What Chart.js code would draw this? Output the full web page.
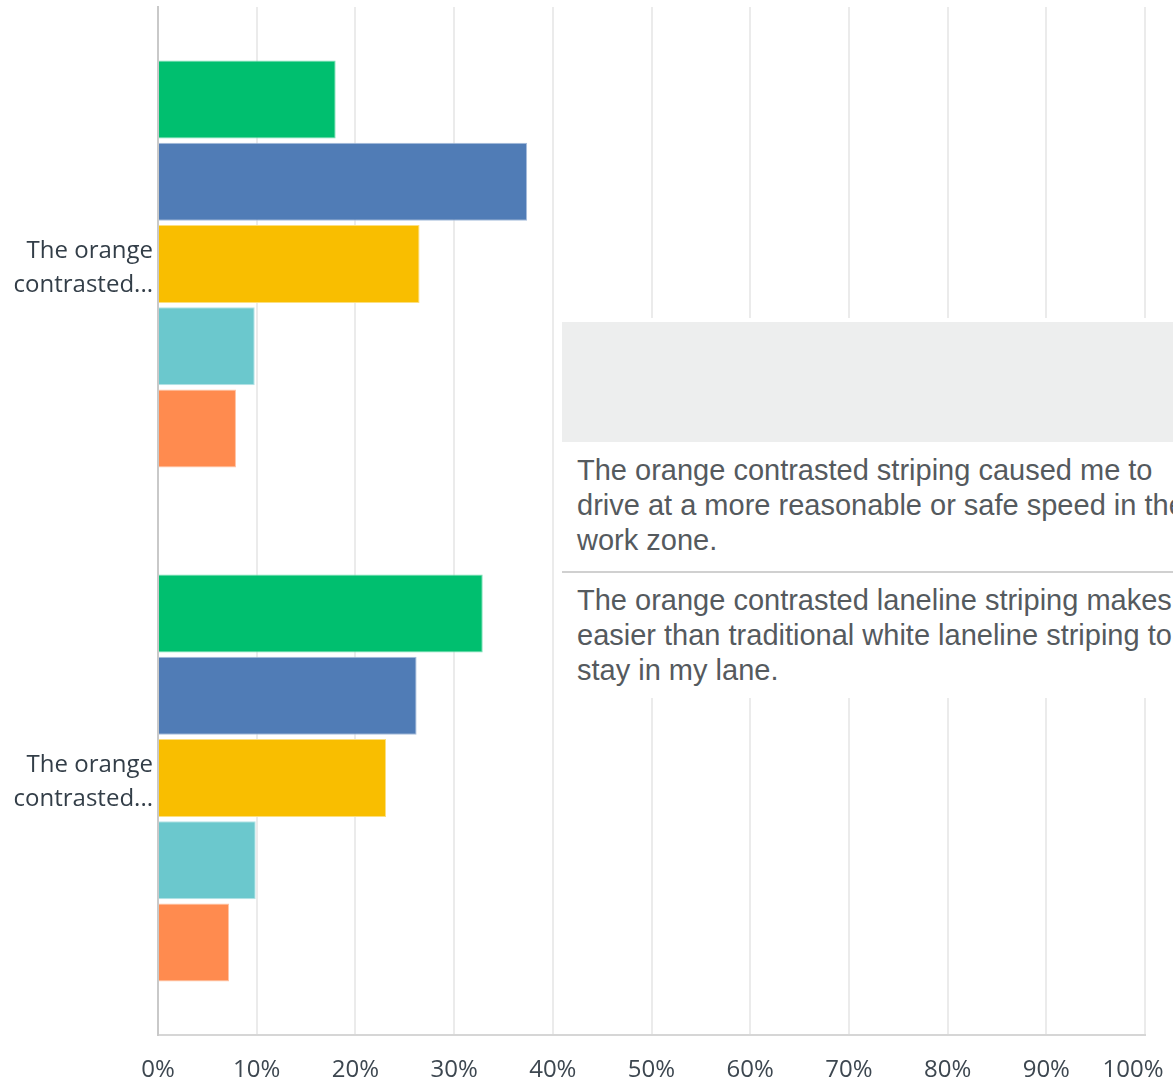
<!DOCTYPE html>
<html>
<head>
<meta charset="utf-8">
<script src="https://cdn.jsdelivr.net/npm/chart.js@4"></script>
<style>
  html, body { margin: 0; padding: 0; background: #fff; overflow: hidden; }
  #wrap { position: relative; width: 1173px; height: 1081px; }
  #chart { display: block; }
  #tip {
    position: absolute; left: 556px; top: 318px; width: 720px; height: 380px;
    background: #fff; font-family: "Liberation Sans", Arial, sans-serif;
    font-size: 29px; line-height: 35px; color: #555a5e;
  }
  #tip .head { position: absolute; left: 6px; top: 4px; width: 720px; height: 120px; background: #edeeee; }
  #tip .row { position: absolute; left: 21px; white-space: nowrap; }
  #tip .sep { position: absolute; left: 6px; top: 253px; width: 720px; height: 2px; background: #d0d0d0; }
</style>
</head>
<body>
<div id="wrap">
  <canvas id="chart" width="1173" height="1081"></canvas>
  <div id="tip">
    <div class="head"></div>
    <div class="row" id="tip-row1" style="top:135px"></div>
    <div class="sep"></div>
    <div class="row" id="tip-row2" style="top:265px"></div>
  </div>
</div>
<script>
// DATOS
const categories = [
  "The orange contrasted striping caused me to drive at a more reasonable or safe speed in the work zone.",
  "The orange contrasted laneline striping makes it easier than traditional white laneline striping to stay in my lane."
];
const tickLabels = [["The orange", "contrasted..."], ["The orange", "contrasted..."]];
const seriesNames = ["Strongly agree", "Agree", "Neither agree nor disagree", "Disagree", "Strongly disagree"];
const stronglyAgree = [18.0, 32.9];
const agree = [37.4, 26.2];
const neutral = [26.5, 23.1];
const disagree = [9.8, 9.9];
const stronglyDisagree = [7.9, 7.2];
const xTicks = [0, 10, 20, 30, 40, 50, 60, 70, 80, 90, 100];

// COLORES
const fills = ["#00bf6f", "#507cb6", "#f9be00", "#6bc8cd", "#ff8b4f"];
const borders = ["#7fdfb7", "#a7bddb", "#fcdf80", "#b5e3e6", "#ffc5a7"];

// TEXTO DEL TOOLTIP (cortado como en la imagen)
const tipLines = [
  ["The orange contrasted striping caused me to", "drive at a more reasonable or safe speed in the", "work zone."],
  ["The orange contrasted laneline striping makes it", "easier than traditional white laneline striping to", "stay in my lane."]
];
document.getElementById("tip-row1").innerHTML = tipLines[0].join("<br>");
document.getElementById("tip-row2").innerHTML = tipLines[1].join("<br>");

const values = [stronglyAgree, agree, neutral, disagree, stronglyDisagree];
const datasets = values.map((data, i) => ({
  label: seriesNames[i],
  data: data,
  backgroundColor: fills[i],
  borderColor: borders[i],
  borderWidth: 1,
  categoryPercentage: 0.8,
  barPercentage: 0.95,
}));

new Chart(document.getElementById("chart"), {
  type: "bar",
  data: { labels: categories, datasets: datasets },
  options: {
    indexAxis: "y",
    responsive: false,
    animation: false,
    layout: { padding: { top: 7, left: 0, right: 0, bottom: 0 } },
    plugins: { legend: { display: false }, tooltip: { enabled: false } },
    scales: {
      x: {
        min: 0,
        max: 100,
        afterBuildTicks: (scale) => { scale.ticks = xTicks.map((v) => ({ value: v })); },
        afterFit: (scale) => {
          scale.height = 46;
          scale.paddingLeft = 0;
          scale.paddingRight = 28;
        },
        grid: { color: "#ebebeb", lineWidth: 2, drawTicks: false },
        border: { display: true, color: "#d6d6d6", width: 2 },
        ticks: {
          padding: 21,
          color: "#3d4750",
          font: { family: "'Open Sans', sans-serif", size: 24 },
          maxRotation: 0,
          // la última etiqueta se corre a la izquierda para que quepa
          callback: (v) => (v === 100 ? v + "%\u2002\u2002" : v + "%"),
        },
      },
      y: {
        afterFit: (scale) => {
          scale.width = 158;
          scale.paddingTop = 0;
          scale.paddingBottom = 0;
        },
        grid: { display: false, drawTicks: false },
        border: { display: true, color: "#c9c9c9", width: 2 },
        ticks: {
          padding: 5,
          labelOffset: 4,
          color: "#333e48",
          font: { family: "'Open Sans', sans-serif", size: 24, lineHeight: 1.42 },
          callback: (v, i) => tickLabels[i],
        },
      },
    },
  },
});
</script>
</body>
</html>
